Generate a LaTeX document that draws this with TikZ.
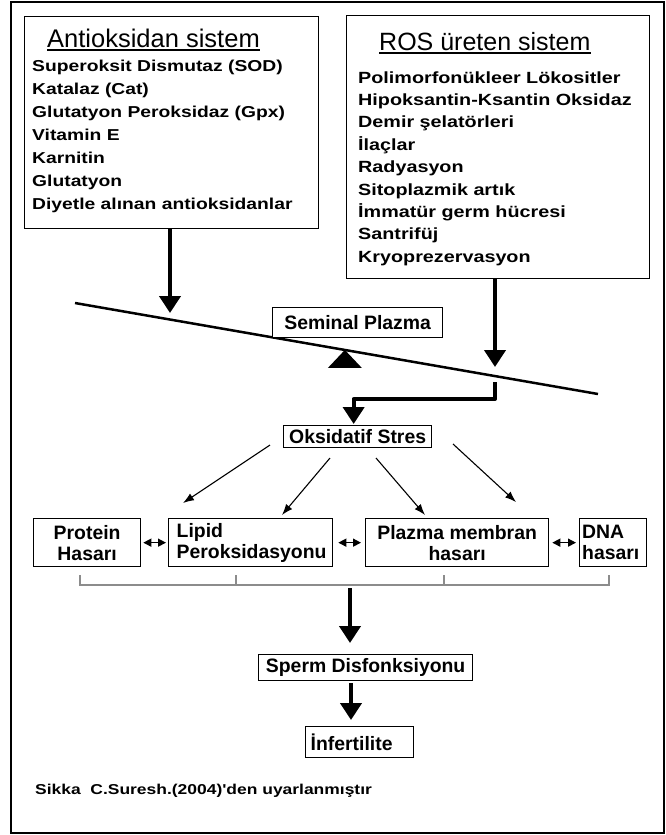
\documentclass[tikz,border=0pt]{standalone}
\usepackage{fontspec}
\setmainfont{Liberation Sans}
\newfontfamily\widesans[FakeStretch=1.22]{Liberation Sans}
\usetikzlibrary{arrows.meta,calc}

\tikzset{
  box/.style={draw,line width=1.3pt,fill=white,inner sep=0pt,anchor=north west,
    font=\bfseries\fontsize{19.4}{21}\selectfont},
  heading/.style={inner sep=0pt,anchor=base west,font=\fontsize{25.5}{30}\selectfont},
  listitem/.style={inner sep=0pt,anchor=base west,font=\widesans\bfseries\fontsize{15.8}{19}\selectfont},
  bigarrow/.style={line width=4pt,-{Triangle[width=21pt,length=17pt]}},
  thinarrow/.style={line width=1.1pt,-{Latex[length=11pt,width=8pt]}},
  dblarrow/.style={line width=1.4pt,{Triangle[length=8pt,width=8pt]}-{Triangle[length=8pt,width=8pt]}},
  bracket/.style={line width=1.2pt,black!45}
}

\begin{document}
\begin{tikzpicture}[x=1pt,y=-1pt]
	\useasboundingbox (0,0) rectangle (666,835);
	\draw[line width=1.5pt] (11,2) rectangle (664,833);

	% antioksidan kutusu
	\node[box,minimum width=294pt,minimum height=212pt] (antibox) at (24,16) {};
	\node[heading] (antititle) at (47,47) {Antioksidan sistem};
	\draw[line width=1.5pt] ($(antititle.base west)+(0,3)$) -- ($(antititle.base east)+(0,3)$);
	\foreach \txt [count=\i] in {Superoksit Dismutaz (SOD),Katalaz (Cat),Glutatyon Peroksidaz (Gpx),Vitamin E,Karnitin,Glutatyon,Diyetle alınan antioksidanlar}
		\node[listitem] (anti\i) at (32,{71+23*(\i-1)}) {\txt};

	% ROS kutusu
	\node[box,minimum width=303pt,minimum height=263pt] (rosbox) at (346,15) {};
	\node[heading,font=\fontsize{25}{30}\selectfont] (rostitle) at (379,50) {ROS üreten sistem};
	\draw[line width=1.5pt] ($(rostitle.base west)+(0,3)$) -- ($(rostitle.base east)+(0,3)$);
	\foreach \txt [count=\i] in {Polimorfonükleer Lökositler,Hipoksantin-Ksantin Oksidaz,Demir şelatörleri,İlaçlar,Radyasyon,Sitoplazmik artık,İmmatür germ hücresi,Santrifüj,Kryoprezervasyon}
		\node[listitem,font=\widesans\bfseries\fontsize{16.2}{19}\selectfont] (ros\i) at (358,{83+22.4*(\i-1)}) {\txt};

	% terazi
	\coordinate (beamL) at (75,303);
	\coordinate (beamR) at (598,394);
	\draw[line width=2.5pt] (beamL) -- (beamR);
	\coordinate (pivot) at ($(beamL)!0.516!(beamR)$);
	\fill[black] (pivot) -- ++(-17,18) -- ++(34,0) -- cycle;
	\node[box,minimum width=170pt,minimum height=30pt] (seminal) at (272,307) {Seminal Plazma};

	\coordinate (antitip) at (170,313);
	\draw[bigarrow] (antibox.south -| antitip) -- (antitip);
	\coordinate (rostip) at (495,367);
	\draw[bigarrow] (rosbox.south -| rostip) -- (rostip);

	\node[box,minimum width=148pt,minimum height=22pt] (oks) at (283,425) {Oksidatif Stres};
	\coordinate (bendstart) at (495,382);
	\coordinate (bendknee) at (495,399);
	\draw[bigarrow,line join=round,shorten >=1pt] (bendstart) -- (bendknee) -| ([xshift=-4pt]oks.north);

	% hasar kutulari
	\node[box,minimum width=107pt,minimum height=48pt,align=center] (prot) at (33,518) {Protein\\Hasarı};
	\node[box,minimum width=164pt,minimum height=48pt,align=left,text width=148pt] (lipid) at (168,518) {Lipid\\Peroksidasyonu};
	\node[box,minimum width=183pt,minimum height=48pt,align=center] (plaz) at (365,518) {Plazma membran\\hasarı};
	\node[box,minimum width=67pt,minimum height=48pt,align=left,text width=62pt] (dna) at (579,518) {DNA\\hasarı};

	\foreach \sx/\sy/\ex/\ey [count=\i] in {270/445/183/503,330/458/282/515,376/458/425/515,453/444/516/502}{
		\coordinate (oksout\i) at (\sx,\sy);
		\coordinate (dmgin\i) at (\ex,\ey);
		\draw[thinarrow] (oksout\i) -- (dmgin\i);
	}

	\draw[dblarrow,shorten <=2pt,shorten >=2pt] (prot) -- (lipid);
	\draw[dblarrow,shorten <=5pt,shorten >=4pt] (lipid) -- (plaz);
	\draw[dblarrow,shorten <=3pt,shorten >=3pt] (plaz) -- (dna);

	% parantez
	\coordinate (brL) at (80,585);
	\coordinate (brR) at (609,585);
	\draw[bracket] ($(brL)+(0,-10)$) -- (brL) -- (brR) -- ($(brR)+(0,-10)$);
	\draw[bracket] (236,575) -- (236,585);
	\draw[bracket] (444,575) -- (444,585);

	% sonuc
	\node[box,minimum width=214pt,minimum height=26pt] (sperm) at (258,654) {Sperm Disfonksiyonu};
	\node[box,minimum width=108pt,minimum height=31pt,align=left,text width=98pt] (infert) at (305,726) {İnfertilite};
	\coordinate (brmid) at (350,588);
	\draw[bigarrow,shorten >=11pt] (brmid) -- (brmid |- sperm.north);
	\coordinate (spermout) at (351,683);
	\draw[bigarrow,shorten >=6pt] (spermout) -- (spermout |- infert.north);

	\node[inner sep=0pt,anchor=base west,font=\widesans\bfseries\fontsize{14.3}{17}\selectfont] (source) at (35,794) {Sikka\ \ C.Suresh.(2004)'den uyarlanmıştır};
\end{tikzpicture}
\end{document}
